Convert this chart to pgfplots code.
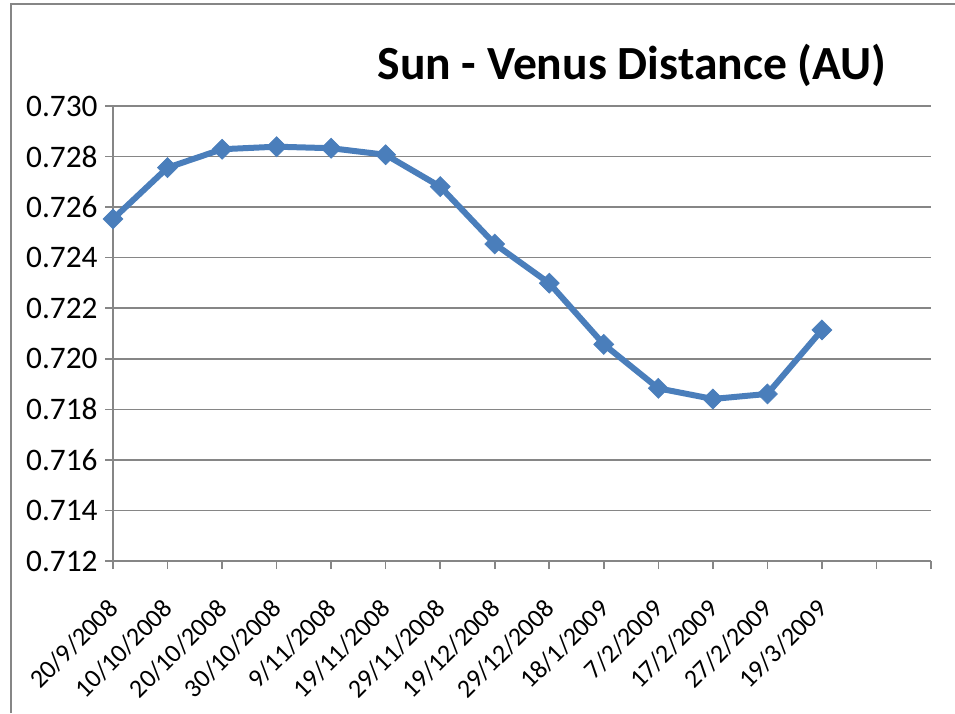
\documentclass[border=0pt]{standalone}
\usepackage{pgfplots}
\pgfplotsset{compat=1.18}
\usepackage{fontspec}
\setmainfont{Carlito}
\definecolor{exblue}{RGB}{74,126,187}
\definecolor{axgray}{RGB}{134,134,134}
\begin{document}
\begin{tikzpicture}[x=0.75pt,y=0.75pt]
\useasboundingbox (0,0) rectangle (955,713);
\draw[axgray, line width=1.2pt] (11,0) -- (11,709) -- (955,709);
\node[font=\bfseries\fontsize{35.7}{42}\selectfont, anchor=base] at (632,633) {Sun - Venus Distance (AU)};
\begin{axis}[
  at={(113*0.75pt,152*0.75pt)}, anchor=south west,
  width=613.5pt, height=341.25pt, scale only axis,
  xmin=0, xmax=15, ymin=0.712, ymax=0.730,
  xtick={0,...,15},
  xticklabels={20/9/2008,10/10/2008,20/10/2008,30/10/2008,9/11/2008,19/11/2008,29/11/2008,19/12/2008,29/12/2008,18/1/2009,7/2/2009,17/2/2009,27/2/2009,19/3/2009,,},
  ytick={0.712,0.714,...,0.7301},
  y tick label style={/pgf/number format/fixed, /pgf/number format/fixed zerofill, /pgf/number format/precision=3},
  /pgf/number format/assume math mode=true,
  ymajorgrids, major grid style={axgray, line width=1.2pt},
  axis line style={axgray, line width=1.2pt},
  axis x line*=bottom, axis y line*=left,
  tick style={axgray, line width=1.2pt},
  tick align=outside, major tick length=6pt,
  yticklabel style={font=\fontsize{23.5}{28}\selectfont, text=black, xshift=-2pt},
  xticklabel style={font=\fontsize{19.5}{23}\selectfont, text=black, xshift=2pt, yshift=-25pt, rotate=45, anchor=east, inner sep=2pt},
  clip=false,
]
\addplot[exblue, line width=4.5pt, mark=square*, mark size=5.3pt, mark options={fill=exblue, line width=0.5pt, rotate=45}] coordinates {
(0,0.72553) (1,0.72756) (2,0.72829) (3,0.72839) (4,0.72833) (5,0.72807) (6,0.72681)
(7,0.72454) (8,0.72299) (9,0.72057) (10,0.71883) (11,0.71841) (12,0.71861) (13,0.72114)
};
\end{axis}
\end{tikzpicture}
\end{document}
